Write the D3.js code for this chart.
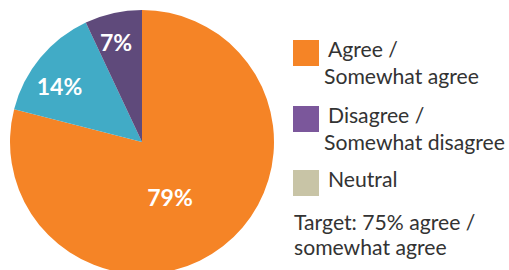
<!DOCTYPE html>
<html>
<head>
<meta charset="utf-8">
<script src="https://cdn.jsdelivr.net/npm/d3@7"></script>
<style>
body { margin: 0; background: #fff; }
svg text { font-family: Lato, "Open Sans", sans-serif; }
</style>
</head>
<body>
<div id="chart"></div>
<script>
var width = 509, height = 270;

// slices, clockwise from 12 o'clock
var categories = ["Agree / Somewhat agree", "Neutral", "Disagree / Somewhat disagree"];
var values = [79, 14, 7];
var sliceColors = ["#f58426", "#41abc6", "#5f4a7b"];

// legend
var legendLines = [["Agree /", "Somewhat agree"], ["Disagree /", "Somewhat disagree"], ["Neutral"]];
var legendColors = ["#f58426", "#7b579b", "#c8c4a6"];
var noteLines = ["Target: 75% agree /", "somewhat agree"];

var svg = d3.select("#chart").append("svg").attr("width", width).attr("height", height);

var cx = 142, cy = 142, radius = 132;

var pie = d3.pie().sort(null).value(function(d){ return d; });
var arc = d3.arc().innerRadius(0).outerRadius(radius);

var arcs = pie(values);

var g = svg.append("g").attr("transform", "translate(" + cx + "," + cy + ")");

g.selectAll("path")
    .data(arcs)
    .enter().append("path")
    .attr("d", arc)
    .attr("fill", function(d, i){ return sliceColors[i]; });

// labels aren't exactly on the mid angle in the original
var labelRadius = [0.47, 0.75, 0.78];
var labelShift = [11, -6, -2];  // degrees
g.selectAll("text.pct")
    .data(arcs)
    .enter().append("text")
    .attr("class", "pct")
    .attr("transform", function(d, i){
        var a = (d.startAngle + d.endAngle) / 2 + labelShift[i] * Math.PI / 180;
        var r = radius * labelRadius[i];
        return "translate(" + (r * Math.sin(a)) + "," + (-r * Math.cos(a)) + ")";
    })
    .attr("dy", "0.36em")
    .attr("text-anchor", "middle")
    .attr("fill", "#fff")
    .attr("font-weight", "bold")
    .attr("font-size", 23)
    .text(function(d){ return d.data + "%"; });

// legend
var legendTop = [40, 106, 170];
var legend = svg.selectAll("g.legend")
    .data(legendLines)
    .enter().append("g")
    .attr("class", "legend")
    .attr("transform", function(d, i){ return "translate(293," + legendTop[i] + ")"; });

legend.append("rect")
    .attr("width", 26).attr("height", 26)
    .attr("fill", function(d, i){ return legendColors[i]; });

legend.each(function(lines){
    var t = d3.select(this);
    lines.forEach(function(line, j){
        t.append("text")
            .attr("class", "leg")
            .attr("x", j === 0 ? 35 : 31)
            .attr("y", 17 + j * 27)
            .attr("fill", "#333")
            .attr("font-size", 20)
            .text(line);
    });
});

svg.selectAll("text.note")
    .data(noteLines)
    .enter().append("text")
    .attr("class", "note")
    .attr("x", 294)
    .attr("y", function(d, i){ return 230 + i * 25; })
    .attr("fill", "#333")
    .attr("font-size", 20)
    .text(function(d){ return d; });

// fit the font so the widest legend line is as wide as in the original
var widest = svg.selectAll("text.leg").filter(function(){ return this.textContent === "Somewhat disagree"; }).node();
var fs = 20 * 181 / widest.getComputedTextLength();
svg.selectAll("text.leg, text.note").attr("font-size", fs);
</script>
</body>
</html>
